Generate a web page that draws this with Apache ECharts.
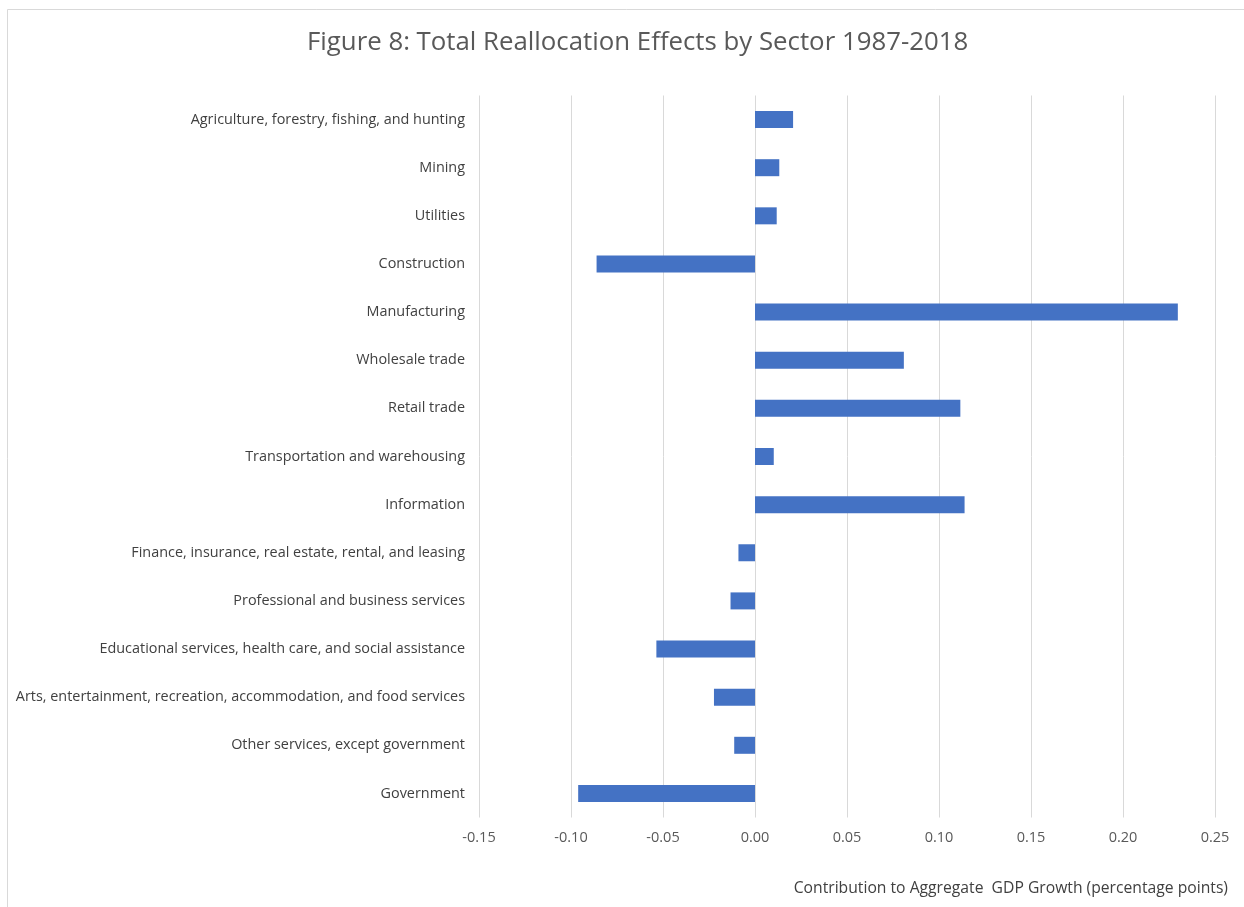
<!DOCTYPE html>
<html>
<head>
<meta charset="utf-8">
<title>Figure 8</title>
<script src="https://cdn.jsdelivr.net/npm/echarts@6/dist/echarts.min.js"></script>
<style>
	html,body{margin:0;padding:0;background:#fff;}
	#main{width:1244px;height:907px;}
</style>
</head>
<body>
<div id="main"></div>
<script>
//行业名称
var sectors=[
	"Agriculture, forestry, fishing, and hunting",
	"Mining",
	"Utilities",
	"Construction",
	"Manufacturing",
	"Wholesale trade",
	"Retail trade",
	"Transportation and warehousing",
	"Information",
	"Finance, insurance, real estate, rental, and leasing",
	"Professional and business services",
	"Educational services, health care, and social assistance",
	"Arts, entertainment, recreation, accommodation, and food services",
	"Other services, except government",
	"Government"
];
//贡献值
var effects=[0.0207,0.0132,0.0118,-0.0861,0.2298,0.0809,0.1116,0.0102,0.1139,-0.0090,-0.0133,-0.0536,-0.0223,-0.0113,-0.0961];
var axisMin=-0.15,
	axisMax=0.25,
	axisStep=0.05;

var myChart=echarts.init(document.getElementById("main"));
var option={
	backgroundColor:"#fff",
	textStyle:{
		fontFamily:"Open Sans"
	},
	graphic:[{
		type:"rect",
		silent:true,
		shape:{x:7.5,y:9.5,width:1400,height:1000},
		style:{fill:"none",stroke:"#d9d9d9",lineWidth:1}
	}],
	title:[{
		text:"Figure 8: Total Reallocation Effects by Sector 1987-2018",
		left:302,
		top:25,
		textStyle:{
			color:"#595959",
			fontSize:25.8,
			fontWeight:"normal",
			fontFamily:"Open Sans"
		}
	},{
		text:"Contribution to Aggregate  GDP Growth (percentage points)",
		right:11,
		top:876,
		textStyle:{
			color:"#404040",
			fontSize:15.7,
			fontWeight:"normal",
			fontFamily:"Open Sans"
		}
	}],
	grid:{
		left:479,
		right:29,
		top:95.5,
		bottom:89.5,
		containLabel:false
	},
	xAxis:{
		type:"value",
		min:axisMin,
		max:axisMax,
		interval:axisStep,
		axisLine:{show:false},
		axisTick:{show:false},
		splitLine:{
			show:true,
			lineStyle:{color:"#d9d9d9",width:1}
		},
		axisLabel:{
			color:"#595959",
			fontSize:14.5,
			margin:13,
			formatter:function(v){
				return v.toFixed(2);
			}
		}
	},
	yAxis:{
		type:"category",
		inverse:true,
		data:sectors,
		axisLine:{show:false},
		axisTick:{show:false},
		splitLine:{show:false},
		axisLabel:{
			color:"#404040",
			fontSize:14.4,
			margin:14,
			interval:0
		}
	},
	series:[{
		name:"Total Reallocation Effects",
		type:"bar",
		data:effects,
		barWidth:17,
		itemStyle:{
			color:"#4472c4"
		}
	}]
};
myChart.setOption(option);
</script>
</body>
</html>
